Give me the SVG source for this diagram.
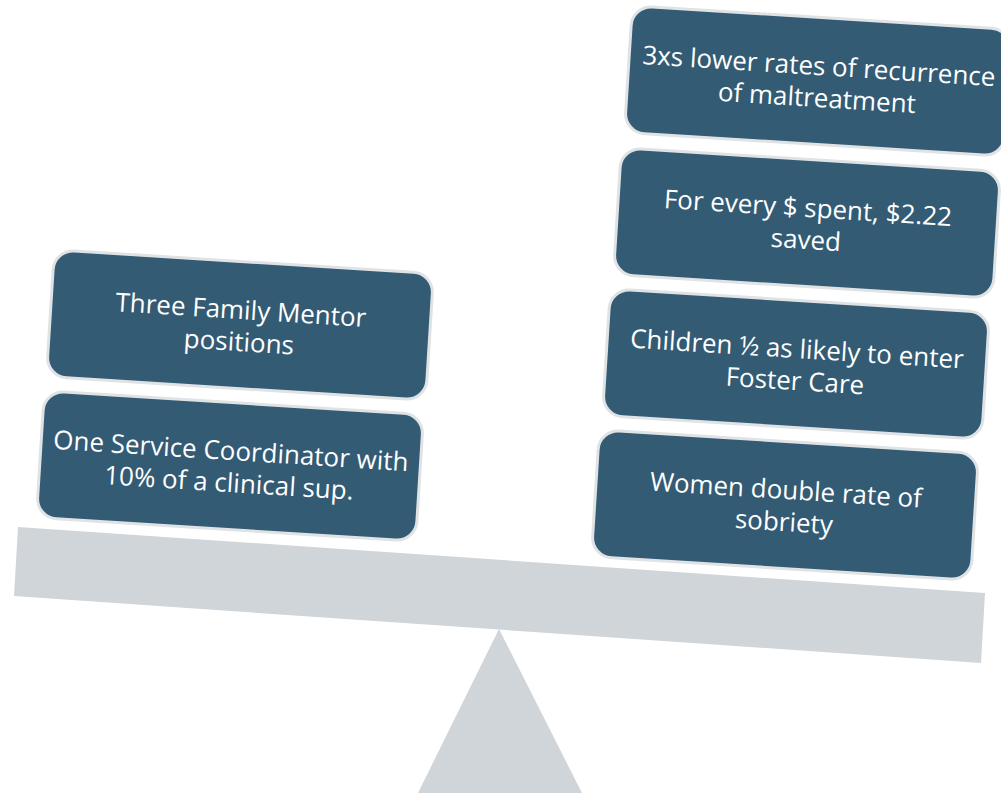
<svg xmlns="http://www.w3.org/2000/svg" width="1001" height="793" viewBox="0 0 1001 793">
<style>
.box{fill:#345B74;stroke:#E0E3E6;stroke-width:3}
.lbl{fill:#FFFFFF;font-family:"Open Sans","Noto Sans","Liberation Sans",sans-serif;font-size:26px;text-anchor:middle}
.scale{fill:#D0D5DA}
</style>
<g id="scale">
<polygon class="scale" points="499,629 582,793 418,793"/>
<polygon class="scale" points="18,527 985,593 981,663 14,596"/>
</g>
<g id="left-mentor" transform="translate(240,325) rotate(3.6)">
<rect class="box" x="-190" y="-63.5" width="380" height="127" rx="20"/>
<text class="lbl" x="0" y="-6">Three Family Mentor</text>
<text class="lbl" x="0" y="26">positions</text>
</g>
<g id="left-coordinator" transform="translate(230,466) rotate(3.6)">
<rect class="box" x="-190" y="-63.5" width="380" height="127" rx="20"/>
<text class="lbl" x="0" y="-6">One Service Coordinator with</text>
<text class="lbl" x="0" y="26">10% of a clinical sup.</text>
</g>
<g id="right-recurrence" transform="translate(818,81) rotate(3.6)">
<rect class="box" x="-190" y="-63.5" width="380" height="127" rx="20"/>
<text class="lbl" x="0" y="-6">3xs lower rates of recurrence</text>
<text class="lbl" x="0" y="26">of maltreatment</text>
</g>
<g id="right-savings" transform="translate(807,223) rotate(3.6)">
<rect class="box" x="-190" y="-63.5" width="380" height="127" rx="20"/>
<text class="lbl" x="0" y="-6">For every $ spent, $2.22</text>
<text class="lbl" x="0" y="26">saved</text>
</g>
<g id="right-foster" transform="translate(796,364) rotate(3.6)">
<rect class="box" x="-190" y="-63.5" width="380" height="127" rx="20"/>
<text class="lbl" x="0" y="-6">Children ½ as likely to enter</text>
<text class="lbl" x="0" y="26">Foster Care</text>
</g>
<g id="right-sobriety" transform="translate(785,505) rotate(3.6)">
<rect class="box" x="-190" y="-63.5" width="380" height="127" rx="20"/>
<text class="lbl" x="0" y="-6">Women double rate of</text>
<text class="lbl" x="0" y="26">sobriety</text>
</g>
</svg>
